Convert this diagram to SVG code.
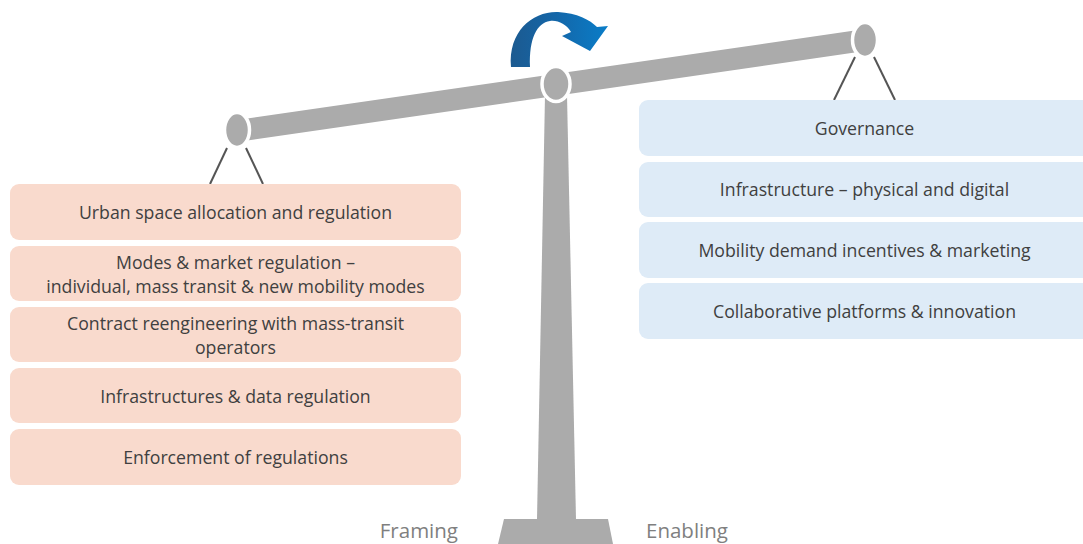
<svg xmlns="http://www.w3.org/2000/svg" width="1083" height="544" viewBox="0 0 1083 544">
<defs>
<linearGradient id="arrowGrad" x1="0" y1="0" x2="1" y2="0">
<stop offset="0" stop-color="#1c5a90"/>
<stop offset="0.45" stop-color="#1466a8"/>
<stop offset="1" stop-color="#0a7dc8"/>
</linearGradient>
</defs>
<style>
.frame{fill:#f9dacd}
.enable{fill:#deebf7}
.txt{font-family:"Open Sans","Liberation Sans",Arial,sans-serif;font-size:17.7px;fill:#404040;text-anchor:middle}
.lbl{font-family:"Open Sans","Liberation Sans",Arial,sans-serif;font-size:20.5px;fill:#7f7f7f}
.gray{fill:#ababab}
.pivot{fill:#ababab;stroke:#ffffff;stroke-width:3.5}
.hang{stroke:#555555;stroke-width:2;fill:none}
</style>
<rect width="1083" height="544" fill="#ffffff"/>

<g id="scale">
<polygon class="gray" points="545,95 567,95 576,520 537,520"/>
<polygon class="gray" points="504,519 608,519 613,544 498,544"/>
<polygon class="gray" points="237,120 865,29 865,51 237,142"/>
<ellipse class="pivot" cx="556" cy="84" rx="14" ry="17.5"/>
<ellipse class="pivot" cx="237" cy="130" rx="12.5" ry="17.5"/>
<ellipse class="pivot" cx="865" cy="40" rx="12.5" ry="17.5"/>
</g>

<g id="rotate-arrow">
<path fill="url(#arrowGrad)" d="M511,67 C508,31 533,11 558,12 C577,13 590,20 597,27 L608,26 L590,51 L562,36 L571,32 C566,24 558,20 550,21 C537,23 529,38 530,67 Z"/>
</g>

<g id="connectors">
<line class="hang" x1="227" y1="148" x2="210" y2="184"/>
<line class="hang" x1="246" y1="148" x2="263" y2="184"/>
<line class="hang" x1="855" y1="57" x2="834" y2="100"/>
<line class="hang" x1="874" y1="57" x2="895" y2="100"/>
</g>

<g id="framing-1">
<rect class="frame" x="10" y="184" width="451" height="56" rx="9"/>
<text class="txt" x="235.5" y="219">Urban space allocation and regulation</text>
</g>
<g id="framing-2">
<rect class="frame" x="10" y="246" width="451" height="55" rx="9"/>
<text class="txt" x="235.5" y="269">Modes &amp; market regulation –</text>
<text class="txt" x="235.5" y="293">individual, mass transit &amp; new mobility modes</text>
</g>
<g id="framing-3">
<rect class="frame" x="10" y="307" width="451" height="55" rx="9"/>
<text class="txt" x="235.5" y="330">Contract reengineering with mass-transit</text>
<text class="txt" x="235.5" y="354">operators</text>
</g>
<g id="framing-4">
<rect class="frame" x="10" y="368" width="451" height="55" rx="9"/>
<text class="txt" x="235.5" y="403">Infrastructures &amp; data regulation</text>
</g>
<g id="framing-5">
<rect class="frame" x="10" y="429" width="451" height="56" rx="9"/>
<text class="txt" x="235.5" y="464">Enforcement of regulations</text>
</g>

<g id="enabling-1">
<rect class="enable" x="639" y="100" width="455" height="56" rx="9"/>
<text class="txt" x="864.5" y="135">Governance</text>
</g>
<g id="enabling-2">
<rect class="enable" x="639" y="162" width="455" height="55" rx="9"/>
<text class="txt" x="864.5" y="196">Infrastructure – physical and digital</text>
</g>
<g id="enabling-3">
<rect class="enable" x="639" y="222" width="455" height="56" rx="9"/>
<text class="txt" x="864.5" y="257">Mobility demand incentives &amp; marketing</text>
</g>
<g id="enabling-4">
<rect class="enable" x="639" y="283" width="455" height="56" rx="9"/>
<text class="txt" x="864.5" y="318">Collaborative platforms &amp; innovation</text>
</g>

<g id="labels">
<text class="lbl" x="458" y="538" text-anchor="end">Framing</text>
<text class="lbl" x="646" y="538">Enabling</text>
</g>
</svg>
